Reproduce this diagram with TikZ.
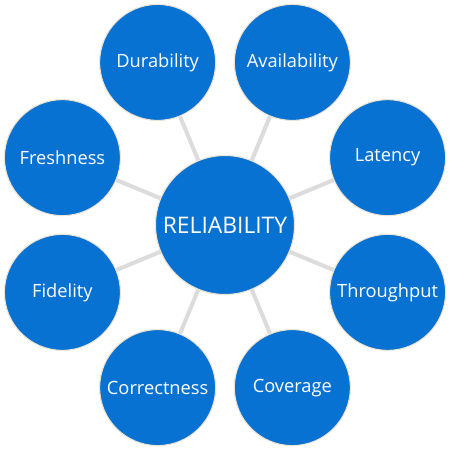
\documentclass[tikz,border=0pt]{standalone}
\usepackage{fontspec}
\setmainfont{Open Sans}
\usetikzlibrary{positioning}
\definecolor{hubblue}{HTML}{0872D2}
\definecolor{rimcream}{HTML}{EDE3D3}
\definecolor{linkgray}{HTML}{DCDCDC}

\begin{document}
\begin{tikzpicture}[x=1cm,y=1cm,hub/.style={circle,fill=hubblue,draw=rimcream,line width=.6pt,minimum size=2.78cm,inner sep=0pt,text=white,font=\fontsize{13}{15}\selectfont},spoke/.style={circle,fill=hubblue,draw=rimcream,line width=.6pt,minimum size=2.32cm,inner sep=0pt,text=white,font=\fontsize{10.4}{12}\selectfont},link/.style={draw=linkgray,line width=2.3pt}]
\useasboundingbox (-4.5,-4.5) rectangle (4.5,4.5);
\node[hub] (rel) at (0,0) {RELIABILITY};
\node[spoke] (dur) at (112.5:3.52) {Durability};
\node[spoke] (ava) at (67.5:3.52) {Availability};
\node[spoke] (lat) at (22.5:3.52) {Latency};
\node[spoke] (thr) at (-22.5:3.52) {Throughput};
\node[spoke] (cov) at (-67.5:3.52) {Coverage};
\node[spoke] (cor) at (-112.5:3.52) {Correctness};
\node[spoke] (fid) at (-157.5:3.52) {Fidelity};
\node[spoke] (fre) at (157.5:3.52) {Freshness};
\draw[link] (rel)--(dur);
\draw[link] (rel)--(ava);
\draw[link] (rel)--(lat);
\draw[link] (rel)--(thr);
\draw[link] (rel)--(cov);
\draw[link] (rel)--(cor);
\draw[link] (rel)--(fid);
\draw[link] (rel)--(fre);
\end{tikzpicture}
\end{document}
